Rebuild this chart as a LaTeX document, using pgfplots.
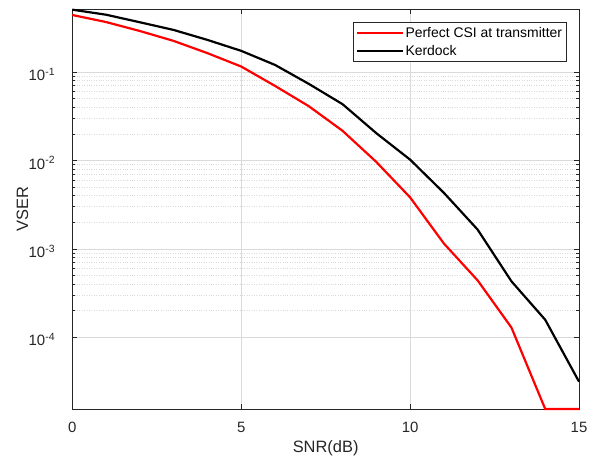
\documentclass[border=0pt]{standalone}
\usepackage{pgfplots}
\pgfplotsset{compat=1.18}
\usepackage{fontspec}
\setmainfont{Liberation Sans}
\definecolor{axgray}{RGB}{38,38,38}
\definecolor{gridgray}{RGB}{218,218,218}
\begin{document}
\begin{tikzpicture}
\useasboundingbox (-72.3bp,-48bp) rectangle (517.7bp,409bp);
\begin{axis}[
  at={(0,0)}, anchor=south west,
  scale only axis, width=506.7bp, height=399.7bp,
  ymode=log, xmin=0, xmax=15, ymin=1.55e-5, ymax=0.51,
  xtick={0,5,10,15}, xticklabels={0,5,10,15},
  ytick={1e-4,1e-3,1e-2,1e-1},
  yticklabels={10\textsuperscript{-4},10\textsuperscript{-3},10\textsuperscript{-2},10\textsuperscript{-1}},
  xmajorgrids=true, ymajorgrids=true, yminorgrids=true,
  major grid style={gridgray, line width=0.5bp},
  minor grid style={gridgray, dotted, line width=0.5bp},
  tick align=inside, tick pos=both,
  major tick length=5bp, minor tick length=3bp,
  axis line style={axgray, line width=0.6bp}, tick style={axgray, line width=0.5bp},
  xticklabel style={font=\fontsize{15}{15}\selectfont, text=axgray, anchor=center, inner sep=0pt, yshift=-18.5bp},
  yticklabel style={font=\fontsize{15}{15}\selectfont, text=axgray, anchor=east, inner sep=0pt, xshift=-17bp, yshift=-2.5bp},
  xlabel={SNR(dB)}, ylabel={VSER},
  every axis x label/.style={at={(axis description cs:0.5,-0.0976)}, anchor=center, font=\fontsize{16.5}{16.5}\selectfont, text=axgray},
  every axis y label/.style={at={(axis description cs:-0.0983,0.5)}, rotate=90, anchor=center, font=\fontsize{16.5}{16.5}\selectfont, text=axgray},
  clip=false,
  legend style={at={(0.976,0.968)}, anchor=north east, draw=axgray, line width=0.5bp,
    font=\fontsize{14}{14}\selectfont, text=black, inner xsep=3bp, inner ysep=3.5bp,
    row sep=3bp, nodes={inner sep=1.5bp}},
  legend cell align=left,
  legend image code/.code={\draw[#1] (0bp,0bp) -- (46bp,0bp);},
]
\addplot[red, line width=2.2bp] coordinates {
 (0,0.44) (1,0.366) (2,0.29) (3,0.224) (4,0.163) (5,0.115) (6,0.0695) (7,0.041)
 (8,0.0216) (9,0.0096) (10,0.00382) (11,0.00115) (12,0.00044) (13,0.000129)
 (14,1.55e-5) (15,1.55e-5)};
\addlegendentry{Perfect CSI at transmitter}
\addplot[black, line width=2.2bp] coordinates {
 (0,0.505) (1,0.443) (2,0.364) (3,0.298) (4,0.23) (5,0.173) (6,0.12) (7,0.0733)
 (8,0.0432) (9,0.0203) (10,0.0102) (11,0.0043) (12,0.00165) (13,0.00043)
 (14,0.000158) (15,3.16e-5)};
\addlegendentry{Kerdock}
\end{axis}
\end{tikzpicture}
\end{document}
